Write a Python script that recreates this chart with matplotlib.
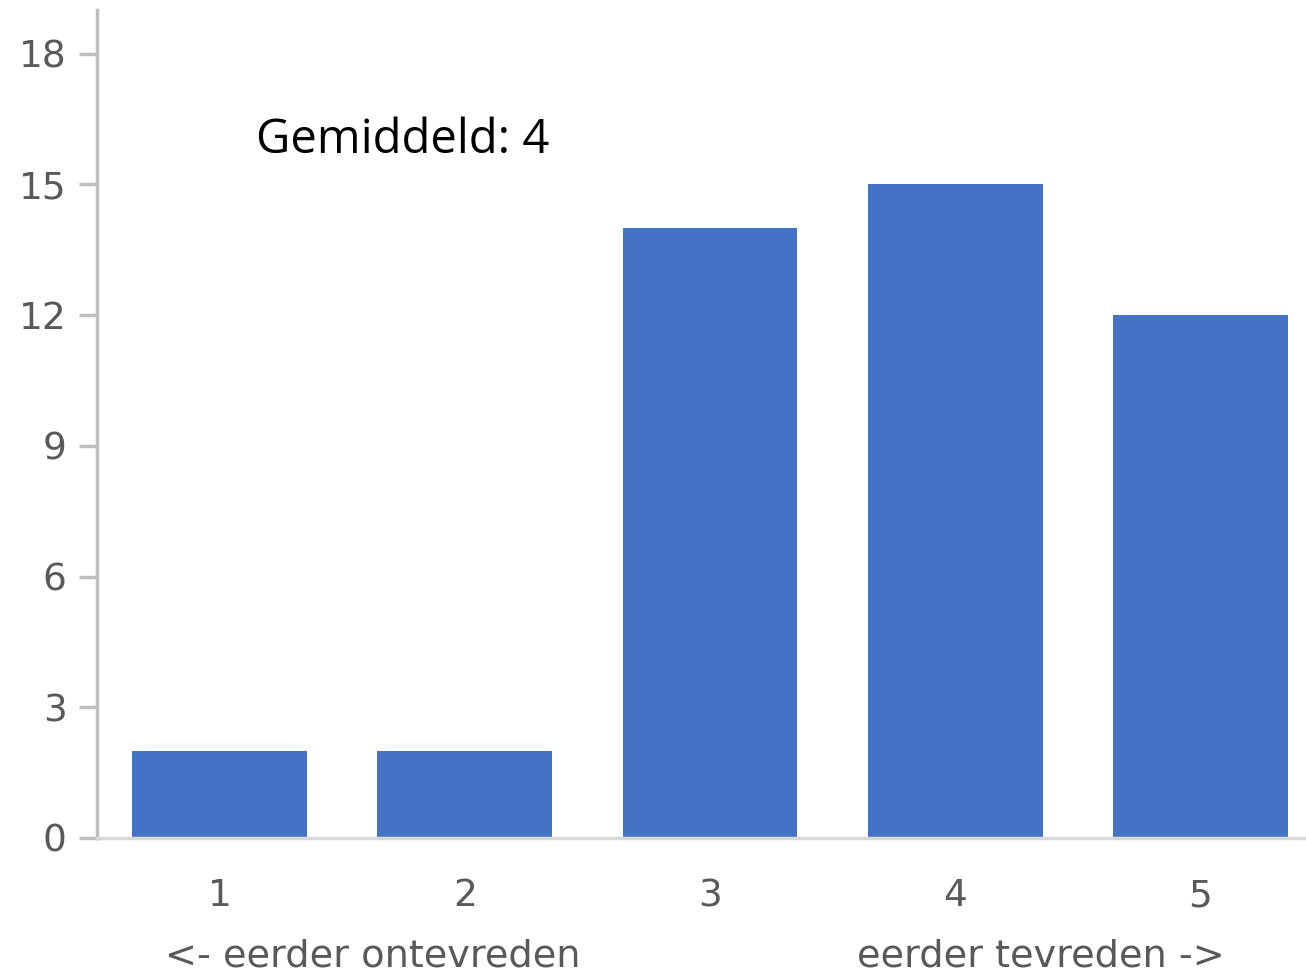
import matplotlib
matplotlib.use("Agg")
import matplotlib.pyplot as plt

categories = ["1", "2", "3", "4", "5"]
values = [2, 2, 14, 15, 12]
yticks = [0, 3, 6, 9, 12, 15, 18]
annotation = "Gemiddeld: 4"
sub_labels = ["<- eerder ontevreden", "eerder tevreden ->"]

fig = plt.figure(figsize=(13.06, 9.77), dpi=100)
ax = fig.add_axes([97/1306, (977-838)/977, 1226/1306, 828/977])

x = list(range(1, len(categories) + 1))
ax.bar(x, values, width=0.713, color="#4472C4", zorder=2)

ax.set_xlim(0.5, 5.5)
ax.set_ylim(0, 19)
ax.set_yticks(yticks)
ax.set_xticks(x)
ax.set_xticklabels(categories)

for s in ["top", "right"]:
    ax.spines[s].set_visible(False)
ax.spines["left"].set_color("#bfbfbf")
ax.spines["left"].set_linewidth(2.5)
ax.spines["bottom"].set_color("#d9d9d9")
ax.spines["bottom"].set_linewidth(2.5)

ax.tick_params(axis="y", length=13, width=2.5, color="#bfbfbf", direction="out",
               labelsize=27, labelcolor="#595959", pad=9)
ax.tick_params(axis="x", length=0, labelsize=27, labelcolor="#595959", pad=29)
for lab in ax.get_xticklabels() + ax.get_yticklabels():
    lab.set_fontfamily("DejaVu Sans")

ax.text(1.15, 16.0, annotation, fontsize=34, family="Open Sans", color="black",
        ha="left", va="center")

sub_x = [1.624, 4.348]
for xs, lab in zip(sub_x, sub_labels):
    ax.text(xs, -2.72, lab, fontsize=27.5, color="#595959", family="DejaVu Sans",
            ha="center", va="center", clip_on=False)

fig.savefig("out.png", dpi=100)
